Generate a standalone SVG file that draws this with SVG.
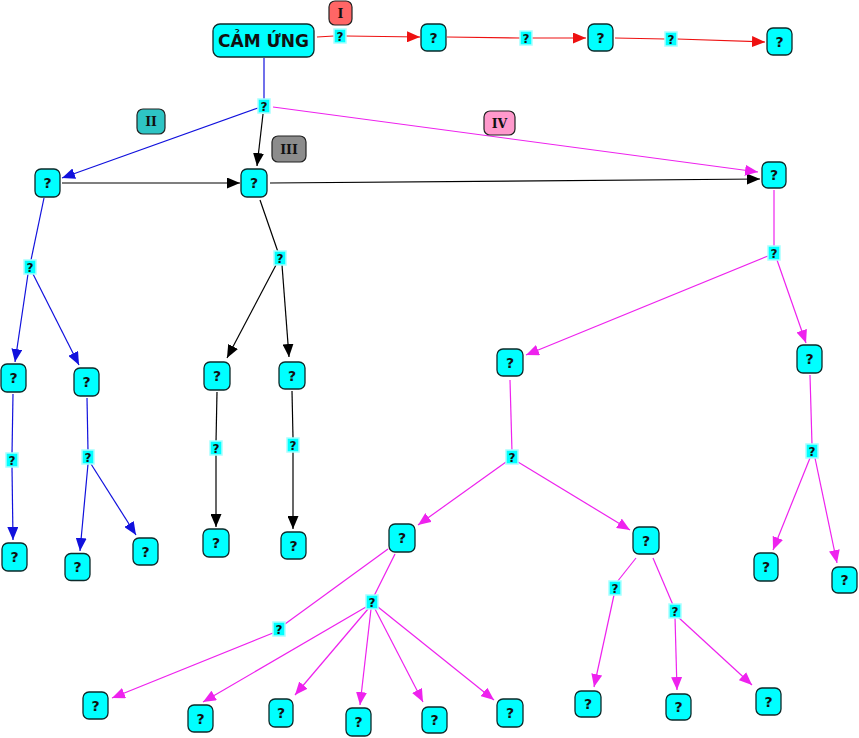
<svg xmlns="http://www.w3.org/2000/svg" width="859" height="738" viewBox="0 0 859 738">
<defs>
<style>
.n rect{fill:#00FFFF;stroke:#0d2a2a;stroke-width:1.3}
.n text{font-family:"DejaVu Sans",Verdana,sans-serif;font-weight:bold;font-size:14px;fill:#111;text-anchor:middle}
.l rect{fill:#00FFFF;stroke:#a8ffff;stroke-width:1.5}
.l text{font-family:"DejaVu Sans",Verdana,sans-serif;font-weight:bold;font-size:12px;fill:#111;text-anchor:middle}
.t rect{stroke:#222;stroke-width:1.2}
.t text{font-family:"DejaVu Serif","Liberation Serif",serif;font-weight:bold;font-size:12.5px;fill:#111;text-anchor:middle}
.c line{fill:none;stroke-width:1.2}
.r{stroke:#ee1111}
.b{stroke:#1111dd}
.k{stroke:#000}
.m{stroke:#ee22ee}
.r.a{marker-end:url(#ar)}
.b.a{marker-end:url(#ab)}
.k.a{marker-end:url(#ak)}
.m.a{marker-end:url(#am)}
</style>
<marker id="ar" markerUnits="userSpaceOnUse" markerWidth="13" markerHeight="11" refX="13" refY="5.5" orient="auto"><path d="M0,0L13,5.5L0,11z" fill="#ee1111"/></marker>
<marker id="ab" markerUnits="userSpaceOnUse" markerWidth="13" markerHeight="11" refX="13" refY="5.5" orient="auto"><path d="M0,0L13,5.5L0,11z" fill="#1111dd"/></marker>
<marker id="ak" markerUnits="userSpaceOnUse" markerWidth="13" markerHeight="11" refX="13" refY="5.5" orient="auto"><path d="M0,0L13,5.5L0,11z" fill="#000"/></marker>
<marker id="am" markerUnits="userSpaceOnUse" markerWidth="13" markerHeight="11" refX="13" refY="5.5" orient="auto"><path d="M0,0L13,5.5L0,11z" fill="#ee22ee"/></marker>
</defs>
<rect width="859" height="738" fill="#fff"/>
<g id="connectors" class="c">
<line class="r" x1="317" y1="37" x2="334" y2="36"/>
<line class="r a" x1="346" y1="36" x2="420" y2="37"/>
<line class="r" x1="447" y1="37" x2="520" y2="38"/>
<line class="r a" x1="532" y1="38" x2="586" y2="38"/>
<line class="r" x1="615" y1="38" x2="665" y2="39"/>
<line class="r a" x1="677" y1="39" x2="765" y2="42"/>
<line class="b" x1="264" y1="58" x2="264" y2="99"/>
<line class="b a" x1="258" y1="108" x2="62" y2="178"/>
<line class="b" x1="44" y1="198" x2="31" y2="260"/>
<line class="b a" x1="28" y1="274" x2="15" y2="362"/>
<line class="b a" x1="33" y1="274" x2="79" y2="365"/>
<line class="b" x1="13" y1="394" x2="12" y2="454"/>
<line class="b a" x1="12" y1="467" x2="13" y2="540"/>
<line class="b" x1="87" y1="398" x2="88" y2="451"/>
<line class="b a" x1="88" y1="464" x2="80" y2="551"/>
<line class="b a" x1="91" y1="464" x2="136" y2="535"/>
<line class="k a" x1="263" y1="114" x2="257" y2="166"/>
<line class="k a" x1="62" y1="183" x2="240" y2="183"/>
<line class="k a" x1="270" y1="183" x2="760" y2="179"/>
<line class="k" x1="260" y1="200" x2="278" y2="252"/>
<line class="k a" x1="276" y1="265" x2="227" y2="358"/>
<line class="k a" x1="282" y1="265" x2="289" y2="357"/>
<line class="k" x1="217" y1="392" x2="216" y2="442"/>
<line class="k a" x1="216" y1="455" x2="216" y2="527"/>
<line class="k" x1="292" y1="391" x2="293" y2="438"/>
<line class="k a" x1="293" y1="452" x2="293" y2="529"/>
<line class="m a" x1="273" y1="107" x2="758" y2="172"/>
<line class="m" x1="774" y1="190" x2="774" y2="247"/>
<line class="m a" x1="768" y1="256" x2="526" y2="355"/>
<line class="m a" x1="777" y1="260" x2="806" y2="343"/>
<line class="m" x1="510" y1="380" x2="512" y2="452"/>
<line class="m a" x1="506" y1="462" x2="418" y2="525"/>
<line class="m a" x1="518" y1="462" x2="630" y2="530"/>
<line class="m" x1="810" y1="375" x2="812" y2="445"/>
<line class="m a" x1="810" y1="458" x2="773" y2="550"/>
<line class="m a" x1="815" y1="458" x2="837" y2="563"/>
<line class="m" x1="636" y1="558" x2="617" y2="582"/>
<line class="m a" x1="614" y1="595" x2="594" y2="687"/>
<line class="m" x1="653" y1="558" x2="673" y2="605"/>
<line class="m a" x1="675" y1="617" x2="677" y2="690"/>
<line class="m a" x1="678" y1="617" x2="752" y2="685"/>
<line class="m" x1="388" y1="549" x2="285" y2="624"/>
<line class="m a" x1="273" y1="633" x2="112" y2="698"/>
<line class="m" x1="395" y1="554" x2="374" y2="596"/>
<line class="m a" x1="366" y1="607" x2="203" y2="702"/>
<line class="m a" x1="368" y1="609" x2="295" y2="695"/>
<line class="m a" x1="371" y1="609" x2="360" y2="705"/>
<line class="m a" x1="375" y1="609" x2="423" y2="702"/>
<line class="m a" x1="378" y1="607" x2="494" y2="700"/>
</g>
<g id="tags" class="t">
<g id="tag-I"><rect x="329" y="1" width="23" height="24" rx="6" fill="#FF6666"/><text x="340.5" y="17.5">I</text></g>
<g id="tag-II"><rect x="137" y="109" width="28" height="25" rx="6" fill="#2EC4C4"/><text x="151" y="126">II</text></g>
<g id="tag-III"><rect x="272" y="136" width="34" height="26" rx="6" fill="#8C8C8C"/><text x="289" y="153.5">III</text></g>
<g id="tag-IV"><rect x="484" y="111" width="31" height="24" rx="6" fill="#FF99CC"/><text x="499.5" y="127.5">IV</text></g>
</g>
<g id="labels" class="l">
<g transform="translate(340,36)"><rect x="-6" y="-7" width="12" height="14"/><text y="4.5">?</text></g>
<g transform="translate(526,38)"><rect x="-6" y="-7" width="12" height="14"/><text y="4.5">?</text></g>
<g transform="translate(671,39)"><rect x="-6" y="-7" width="12" height="14"/><text y="4.5">?</text></g>
<g transform="translate(264,106)"><rect x="-6" y="-7" width="12" height="14"/><text y="4.5">?</text></g>
<g transform="translate(30,267)"><rect x="-6" y="-7" width="12" height="14"/><text y="4.5">?</text></g>
<g transform="translate(12,460)"><rect x="-6" y="-7" width="12" height="14"/><text y="4.5">?</text></g>
<g transform="translate(88,457)"><rect x="-6" y="-7" width="12" height="14"/><text y="4.5">?</text></g>
<g transform="translate(280,258)"><rect x="-6" y="-7" width="12" height="14"/><text y="4.5">?</text></g>
<g transform="translate(216,448)"><rect x="-6" y="-7" width="12" height="14"/><text y="4.5">?</text></g>
<g transform="translate(293,445)"><rect x="-6" y="-7" width="12" height="14"/><text y="4.5">?</text></g>
<g transform="translate(774,253)"><rect x="-6" y="-7" width="12" height="14"/><text y="4.5">?</text></g>
<g transform="translate(512,457)"><rect x="-6" y="-7" width="12" height="14"/><text y="4.5">?</text></g>
<g transform="translate(812,451)"><rect x="-6" y="-7" width="12" height="14"/><text y="4.5">?</text></g>
<g transform="translate(615,588)"><rect x="-6" y="-7" width="12" height="14"/><text y="4.5">?</text></g>
<g transform="translate(675,611)"><rect x="-6" y="-7" width="12" height="14"/><text y="4.5">?</text></g>
<g transform="translate(279,629)"><rect x="-6" y="-7" width="12" height="14"/><text y="4.5">?</text></g>
<g transform="translate(372,602)"><rect x="-6" y="-7" width="12" height="14"/><text y="4.5">?</text></g>
</g>
<g id="main" class="n"><rect x="213" y="24" width="101" height="33" rx="7"/><text x="263.5" y="47" style="font-size:17px">CẢM ỨNG</text></g>
<g id="n1" class="n" transform="translate(433.5,37.5)"><rect x="-12.5" y="-13.5" width="25" height="27" rx="6"/><text y="5">?</text></g>
<g id="n2" class="n" transform="translate(600.5,37.5)"><rect x="-12.5" y="-13.5" width="25" height="27" rx="6"/><text y="5">?</text></g>
<g id="n3" class="n" transform="translate(779.5,41.5)"><rect x="-12.5" y="-13.5" width="25" height="27" rx="6"/><text y="5">?</text></g>
<g id="nA" class="n" transform="translate(47.5,183)"><rect x="-12.5" y="-14" width="25" height="28" rx="6"/><text y="5">?</text></g>
<g id="nB" class="n" transform="translate(254,183)"><rect x="-13" y="-14" width="26" height="28" rx="6"/><text y="5">?</text></g>
<g id="nC" class="n" transform="translate(774,175)"><rect x="-12" y="-13" width="24" height="26" rx="6"/><text y="5">?</text></g>
<g id="nA1" class="n" transform="translate(13.5,378)"><rect x="-12.5" y="-14" width="25" height="28" rx="6"/><text y="5">?</text></g>
<g id="nA2" class="n" transform="translate(86.5,382)"><rect x="-12.5" y="-14" width="25" height="28" rx="6"/><text y="5">?</text></g>
<g id="nA1b" class="n" transform="translate(14.5,557)"><rect x="-12.5" y="-14" width="25" height="28" rx="6"/><text y="5">?</text></g>
<g id="nA2a" class="n" transform="translate(77.5,567)"><rect x="-12.5" y="-13.5" width="25" height="27" rx="6"/><text y="5">?</text></g>
<g id="nA2b" class="n" transform="translate(145.5,551.5)"><rect x="-12.5" y="-13.5" width="25" height="27" rx="6"/><text y="5">?</text></g>
<g id="nB1" class="n" transform="translate(217,376)"><rect x="-13" y="-14" width="26" height="28" rx="6"/><text y="5">?</text></g>
<g id="nB2" class="n" transform="translate(292,375.5)"><rect x="-13" y="-13.5" width="26" height="27" rx="6"/><text y="5">?</text></g>
<g id="nB1b" class="n" transform="translate(216,543)"><rect x="-13" y="-14" width="26" height="28" rx="6"/><text y="5">?</text></g>
<g id="nB2b" class="n" transform="translate(293.5,545.5)"><rect x="-12.5" y="-13.5" width="25" height="27" rx="6"/><text y="5">?</text></g>
<g id="nD" class="n" transform="translate(510,362.5)"><rect x="-13" y="-13.5" width="26" height="27" rx="6"/><text y="5">?</text></g>
<g id="nE" class="n" transform="translate(809.5,359)"><rect x="-12.5" y="-14" width="25" height="28" rx="6"/><text y="5">?</text></g>
<g id="nE1" class="n" transform="translate(766,567)"><rect x="-12" y="-14" width="24" height="28" rx="6"/><text y="5">?</text></g>
<g id="nE2" class="n" transform="translate(844.5,580)"><rect x="-12.5" y="-13" width="25" height="26" rx="6"/><text y="5">?</text></g>
<g id="nD1" class="n" transform="translate(402,538)"><rect x="-13" y="-14" width="26" height="28" rx="6"/><text y="5">?</text></g>
<g id="nD2" class="n" transform="translate(646,540.5)"><rect x="-13" y="-13.5" width="26" height="27" rx="6"/><text y="5">?</text></g>
<g id="nD2a" class="n" transform="translate(588,704)"><rect x="-13" y="-13" width="26" height="26" rx="6"/><text y="5">?</text></g>
<g id="nD2b" class="n" transform="translate(678.5,707)"><rect x="-12.5" y="-13" width="25" height="26" rx="6"/><text y="5">?</text></g>
<g id="nD2c" class="n" transform="translate(768.5,701.5)"><rect x="-12.5" y="-13.5" width="25" height="27" rx="6"/><text y="5">?</text></g>
<g id="nF1" class="n" transform="translate(95.5,705.5)"><rect x="-12.5" y="-13.5" width="25" height="27" rx="6"/><text y="5">?</text></g>
<g id="nF2" class="n" transform="translate(200.5,718.5)"><rect x="-12.5" y="-13.5" width="25" height="27" rx="6"/><text y="5">?</text></g>
<g id="nF3" class="n" transform="translate(281,713)"><rect x="-12" y="-14" width="24" height="28" rx="6"/><text y="5">?</text></g>
<g id="nF4" class="n" transform="translate(358.5,722)"><rect x="-12.5" y="-14" width="25" height="28" rx="6"/><text y="5">?</text></g>
<g id="nF5" class="n" transform="translate(434.5,720)"><rect x="-12.5" y="-13" width="25" height="26" rx="6"/><text y="5">?</text></g>
<g id="nF6" class="n" transform="translate(510,713)"><rect x="-13" y="-14" width="26" height="28" rx="6"/><text y="5">?</text></g>
</svg>
